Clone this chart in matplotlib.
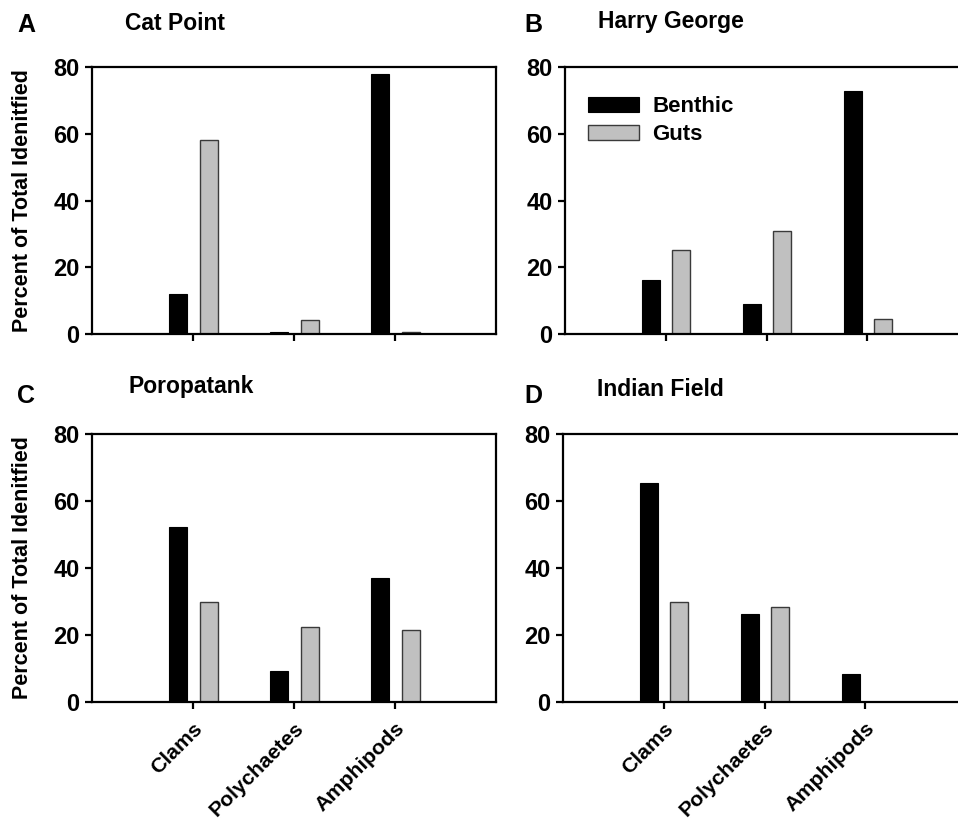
import numpy as np
import matplotlib
matplotlib.use("Agg")
import matplotlib.pyplot as plt

plt.rcParams['font.family'] = ['Liberation Sans', 'DejaVu Sans']
plt.rcParams['font.weight'] = 'bold'

categories = ["Clams", "Polychaetes", "Amphipods"]
sites = ["Cat Point", "Harry George", "Poropatank", "Indian Field"]
letters = ["A", "B", "C", "D"]

benthic_A = [12.0, 0.6, 78.0]
guts_A = [58.2, 4.2, 0.6]
benthic_B = [16.3, 9.1, 72.9]
guts_B = [25.1, 30.8, 4.4]
benthic_C = [52.3, 9.2, 37.1]
guts_C = [29.9, 22.3, 21.6]
benthic_D = [65.5, 26.4, 8.3]
guts_D = [29.9, 28.5, 0.0]

benthic = [benthic_A, benthic_B, benthic_C, benthic_D]
guts = [guts_A, guts_B, guts_C, guts_D]

W, H = 958, 819
fig = plt.figure(figsize=(W / 100, H / 100), dpi=100)

# axes boxes in pixels: left, right, top, bottom
boxes = [(92, 496, 67, 334), (565, 968, 67, 334),
         (92, 496, 434, 702), (563, 966, 434, 702)]
# letter x, letter baseline, title x, title baseline
heads = [(17, 32, 125, 30), (524, 32, 598, 28),
         (17, 403, 128, 393), (524, 403, 597, 396)]

x = np.arange(1, len(categories) + 1)
bw = 0.18

for i in range(4):
    l, r, t, b = boxes[i]
    ax = fig.add_axes([l / W, 1 - b / H, (r - l) / W, (b - t) / H])
    ax.bar(x - 0.145, benthic[i], bw, color='black', edgecolor='black',
           linewidth=0.8, label='Benthic', zorder=2)
    ax.bar(x + 0.155, guts[i], bw, color='#c0c0c0', edgecolor='#3a3a3a',
           linewidth=1.0, label='Guts', zorder=2)
    ax.set_xlim(0, 4)
    ax.set_ylim(0, 80)
    ax.set_yticks([0, 20, 40, 60, 80])
    ax.set_xticks(x)
    ax.tick_params(direction='out', length=5, width=1.6, labelsize=17, pad=4)
    if i >= 2:
        ax.set_xticklabels(categories, rotation=45, ha='right',
                           rotation_mode='anchor', fontsize=15.3, fontweight='bold')
        ax.tick_params(axis='x', pad=7)
    else:
        ax.set_xticklabels([])
    for s in ax.spines.values():
        s.set_linewidth(1.6)
    for lab in ax.get_yticklabels():
        lab.set_fontweight('bold')
    if i % 2 == 0:
        ax.set_ylabel("Percent of Total Idenitfied", fontsize=15.5, fontweight='bold')
        ax.yaxis.set_label_coords(-0.145, 0.5)
    if i == 1:
        ax.legend(loc='upper left', bbox_to_anchor=(0.057, 0.89), frameon=False,
                  handlelength=2.3, handleheight=0.65,
                  handletextpad=0.6, labelspacing=0.3, borderpad=0,
                  borderaxespad=0, prop={'weight': 'bold', 'size': 16})
    lx, ly, tx, ty = heads[i]
    fig.text(lx / W, 1 - ly / H, letters[i], fontsize=18, fontweight='bold',
             va='baseline', ha='left')
    fig.text(tx / W, 1 - ty / H, sites[i], fontsize=16.5, fontweight='bold',
             va='baseline', ha='left')

plt.savefig("out.png", dpi=100)
